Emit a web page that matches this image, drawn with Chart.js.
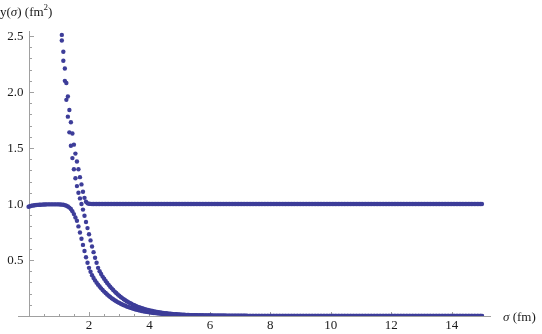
<!DOCTYPE html>
<html>
<head>
<meta charset="utf-8">
<script src="https://cdn.jsdelivr.net/npm/chart.js@4/dist/chart.umd.min.js"></script>
<style>
  html, body { margin: 0; padding: 0; background: #fff; }
  #box { width: 542px; height: 334px; position: relative; }
</style>
</head>
<body>
<div id="box"><canvas id="plotCanvas"></canvas></div>
<script>
'use strict';

// sigma grid, 0 .. 15 fm in steps of 0.05
const sigmaStep = 0.05;
const sigmaCount = 301;

// curve that sits at ~1 and then falls to 0 (one row = one fm, 20 samples)
const yFlatDrop = [
  0.975,0.980,0.984,0.987,0.989,0.991,0.992,0.993,0.994,0.995,0.996,0.996,0.997,0.997,0.997,0.997,0.997,0.997,0.997,0.997,
  0.997,0.996,0.995,0.993,0.990,0.985,0.978,0.968,0.955,0.935,0.910,0.880,0.850,0.800,0.745,0.690,0.635,0.580,0.525,0.475,
  0.430,0.395,0.365,0.340,0.318,0.298,0.280,0.263,0.247,0.232,0.218,0.205,0.192,0.181,0.170,0.159,0.150,0.141,0.132,0.124,
  0.117,0.110,0.103,0.097,0.091,0.085,0.080,0.075,0.071,0.066,0.062,0.058,0.055,0.052,0.048,0.045,0.043,0.040,0.038,0.035,
  0.033,0.031,0.029,0.027,0.026,0.024,0.023,0.021,0.020,0.019,0.018,0.016,0.015,0.015,0.014,0.013,0.012,0.011,0.011,0.010,
  0.009,0.009,0.008,0.008,0.007,0.007,0.006,0.006,0.006,0.005,0.005,0.005,0.004,0.004,0.004,0.004,0.003,0.003,0.003,0.003,
  0.003,0.002,0.002,0.002,0.002,0.002,0.002,0.002,0.002,0.002,0.002,0.001,0.001,0.001,0.001,0.001,0.001,0.001,0.001,0.001,
  0.001,0.001,0.001,0.001,0.001,0.001,0.001,0.001,0.001,0.001,0,0,0,0,0,0,0,0,0,0,
  0,0,0,0,0,0,0,0,0,0,0,0,0,0,0,0,0,0,0,0,
  0,0,0,0,0,0,0,0,0,0,0,0,0,0,0,0,0,0,0,0,
  0,0,0,0,0,0,0,0,0,0,0,0,0,0,0,0,0,0,0,0,
  0,0,0,0,0,0,0,0,0,0,0,0,0,0,0,0,0,0,0,0,
  0,0,0,0,0,0,0,0,0,0,0,0,0,0,0,0,0,0,0,0,
  0,0,0,0,0,0,0,0,0,0,0,0,0,0,0,0,0,0,0,0,
  0,0,0,0,0,0,0,0,0,0,0,0,0,0,0,0,0,0,0,0,
  0
];

// curve coming down from the top and going to 0 (null = above the plot range)
const yHighDrop = [
  null,null,null,null,null,null,null,null,null,null,null,null,null,null,null,null,null,null,null,null,
  null,null,2.46,2.28,2.10,1.93,1.78,1.64,1.52,1.41,1.31,1.23,1.16,1.10,1.05,1.00,0.95,0.895,0.84,0.785,
  0.730,0.675,0.620,0.570,0.520,0.475,0.430,0.400,0.375,0.352,0.332,0.313,0.295,0.278,0.262,0.247,0.232,0.218,0.205,0.193,
  0.181,0.170,0.160,0.150,0.141,0.132,0.124,0.116,0.109,0.102,0.096,0.090,0.084,0.079,0.074,0.069,0.065,0.061,0.057,0.053,
  0.050,0.047,0.044,0.041,0.038,0.036,0.034,0.031,0.029,0.028,0.026,0.024,0.023,0.021,0.020,0.019,0.017,0.016,0.015,0.014,
  0.013,0.012,0.012,0.011,0.010,0.010,0.009,0.008,0.008,0.007,0.007,0.007,0.006,0.006,0.005,0.005,0.005,0.004,0.004,0.004,
  0.004,0.004,0.003,0.003,0.003,0.003,0.003,0.003,0.003,0.003,0.003,0.002,0.002,0.002,0.002,0.002,0.002,0.002,0.002,0.002,
  0.002,0.002,0.002,0.002,0.002,0.001,0.001,0.001,0.001,0.001,0.001,0.001,0.001,0.001,0.001,0.001,0.001,0.001,0.001,0.001,
  0.001,0.001,0.001,0.001,0.001,0.001,0.001,0.001,0.001,0.001,0,0,0,0,0,0,0,0,0,0,
  0,0,0,0,0,0,0,0,0,0,0,0,0,0,0,0,0,0,0,0,
  0,0,0,0,0,0,0,0,0,0,0,0,0,0,0,0,0,0,0,0,
  0,0,0,0,0,0,0,0,0,0,0,0,0,0,0,0,0,0,0,0,
  0,0,0,0,0,0,0,0,0,0,0,0,0,0,0,0,0,0,0,0,
  0,0,0,0,0,0,0,0,0,0,0,0,0,0,0,0,0,0,0,0,
  0,0,0,0,0,0,0,0,0,0,0,0,0,0,0,0,0,0,0,0,
  0
];

// curve coming down from the top and settling at 1
const yHighToOne = [
  null,null,null,null,null,null,null,null,null,null,null,null,null,null,null,null,null,null,null,null,
  null,null,2.51,2.36,2.21,2.08,1.96,1.84,1.73,1.63,1.53,1.45,1.38,1.31,1.24,1.175,1.11,1.055,1.02,1.006,
  1.002,1.001,1,1,1,1,1,1,1,1,1,1,1,1,1,1,1,1,1,1,
  1,1,1,1,1,1,1,1,1,1,1,1,1,1,1,1,1,1,1,1,
  1,1,1,1,1,1,1,1,1,1,1,1,1,1,1,1,1,1,1,1,
  1,1,1,1,1,1,1,1,1,1,1,1,1,1,1,1,1,1,1,1,
  1,1,1,1,1,1,1,1,1,1,1,1,1,1,1,1,1,1,1,1,
  1,1,1,1,1,1,1,1,1,1,1,1,1,1,1,1,1,1,1,1,
  1,1,1,1,1,1,1,1,1,1,1,1,1,1,1,1,1,1,1,1,
  1,1,1,1,1,1,1,1,1,1,1,1,1,1,1,1,1,1,1,1,
  1,1,1,1,1,1,1,1,1,1,1,1,1,1,1,1,1,1,1,1,
  1,1,1,1,1,1,1,1,1,1,1,1,1,1,1,1,1,1,1,1,
  1,1,1,1,1,1,1,1,1,1,1,1,1,1,1,1,1,1,1,1,
  1,1,1,1,1,1,1,1,1,1,1,1,1,1,1,1,1,1,1,1,
  1,1,1,1,1,1,1,1,1,1,1,1,1,1,1,1,1,1,1,1,
  1
];

// ticks
const xMajorTicks = [2, 4, 6, 8, 10, 12, 14];
const xTickLabels = ['2', '4', '6', '8', '10', '12', '14'];
const yMajorTicks = [0.5, 1.0, 1.5, 2.0, 2.5];
const yTickLabels = ['0.5', '1.0', '1.5', '2.0', '2.5'];
const xMinorStep = 0.5;
const yMinorStep = 0.1;

const dotColor = '#3d3d99';
const axisColor = '#a0a0a0';
const textColor = '#1a1a1a';
const serif = "'Liberation Serif', 'DejaVu Serif', serif";

function toPoints(values){
    let pts = [];
    for(let i = 0; i < sigmaCount; i++){
        if(values[i] == null) continue;
        pts.push({x: +(i * sigmaStep).toFixed(2), y: values[i]});
    }
    return pts;
}

function drawRuns(ctx, runs, x, y){
    for(const r of runs){
        ctx.font = r.font;
        ctx.fillText(r.text, x, y + (r.dy || 0));
        x += ctx.measureText(r.text).width;
    }
}

// Mathematica style axes crossing at the origin, drawn from the chart's scales
const originAxes = {
    id: 'originAxes',
    beforeDatasetsDraw(chart){
        const ctx = chart.ctx;
        const xs = chart.scales.x, ys = chart.scales.y;
        const x0 = Math.round(xs.getPixelForValue(0)) + 0.5;
        const y0 = Math.round(ys.getPixelForValue(0)) + 0.5;

        ctx.save();
        ctx.strokeStyle = axisColor;
        ctx.lineWidth = 1;
        ctx.beginPath();
        ctx.moveTo(xs.left, y0); ctx.lineTo(xs.right, y0);
        ctx.moveTo(x0, y0); ctx.lineTo(x0, ys.top);
        ctx.stroke();

        // x ticks point up into the plot
        ctx.beginPath();
        for(let v = xMinorStep; v <= xs.max + 1e-9; v += xMinorStep){
            const px = Math.round(xs.getPixelForValue(v)) + 0.5;
            const len = xMajorTicks.some(t => Math.abs(t - v) < 1e-6) ? 4.5 : 2.5;
            ctx.moveTo(px, y0); ctx.lineTo(px, y0 - len);
        }
        // y ticks point right
        for(let v = yMinorStep; v <= ys.max + 1e-9; v += yMinorStep){
            const py = Math.round(ys.getPixelForValue(v)) + 0.5;
            const len = yMajorTicks.some(t => Math.abs(t - v) < 1e-6) ? 4.5 : 2.5;
            ctx.moveTo(x0, py); ctx.lineTo(x0 + len, py);
        }
        ctx.stroke();

        ctx.fillStyle = textColor;
        ctx.font = '13px ' + serif;
        ctx.textAlign = 'center';
        ctx.textBaseline = 'top';
        for(let i = 0; i < xMajorTicks.length; i++){
            ctx.fillText(xTickLabels[i], xs.getPixelForValue(xMajorTicks[i]), y0 + 3);
        }
        ctx.textAlign = 'right';
        ctx.textBaseline = 'middle';
        for(let i = 0; i < yMajorTicks.length; i++){
            ctx.fillText(yTickLabels[i], x0 - 6, ys.getPixelForValue(yMajorTicks[i]) + 1);
        }

        // axis titles
        ctx.textAlign = 'left';
        ctx.textBaseline = 'alphabetic';
        const up = '13px ' + serif, it = 'italic 13px ' + serif, sm = '9px ' + serif;
        drawRuns(ctx, [
            {text: 'y(', font: up}, {text: '\u03C3', font: it}, {text: ') (fm', font: up},
            {text: '2', font: sm, dy: -6}, {text: ')', font: up}
        ], 0, 16);
        drawRuns(ctx, [
            {text: '\u03C3', font: it}, {text: ' (fm)', font: up}
        ], 503, y0 + 4);
        ctx.restore();
    }
};

function dataset(values){
    return {
        data: toPoints(values),
        backgroundColor: dotColor,
        borderWidth: 0,
        pointRadius: 2.2,
        pointHoverRadius: 2.2
    };
}

const ctx = document.getElementById('plotCanvas').getContext('2d');
window.myChart = new Chart(ctx, {
    type: 'scatter',
    data: {
        datasets: [dataset(yFlatDrop), dataset(yHighDrop), dataset(yHighToOne)]
    },
    options: {
        responsive: true,
        maintainAspectRatio: false,
        animation: false,
        layout: { padding: { left: 18, right: 51, top: 31, bottom: 18 } },
        plugins: { legend: { display: false }, tooltip: { enabled: false } },
        scales: {
            x: { type: 'linear', min: -0.35, max: 15.3, display: false },
            y: { type: 'linear', min: 0, max: 2.545, display: false }
        }
    },
    plugins: [originAxes]
});
</script>
</body>
</html>
